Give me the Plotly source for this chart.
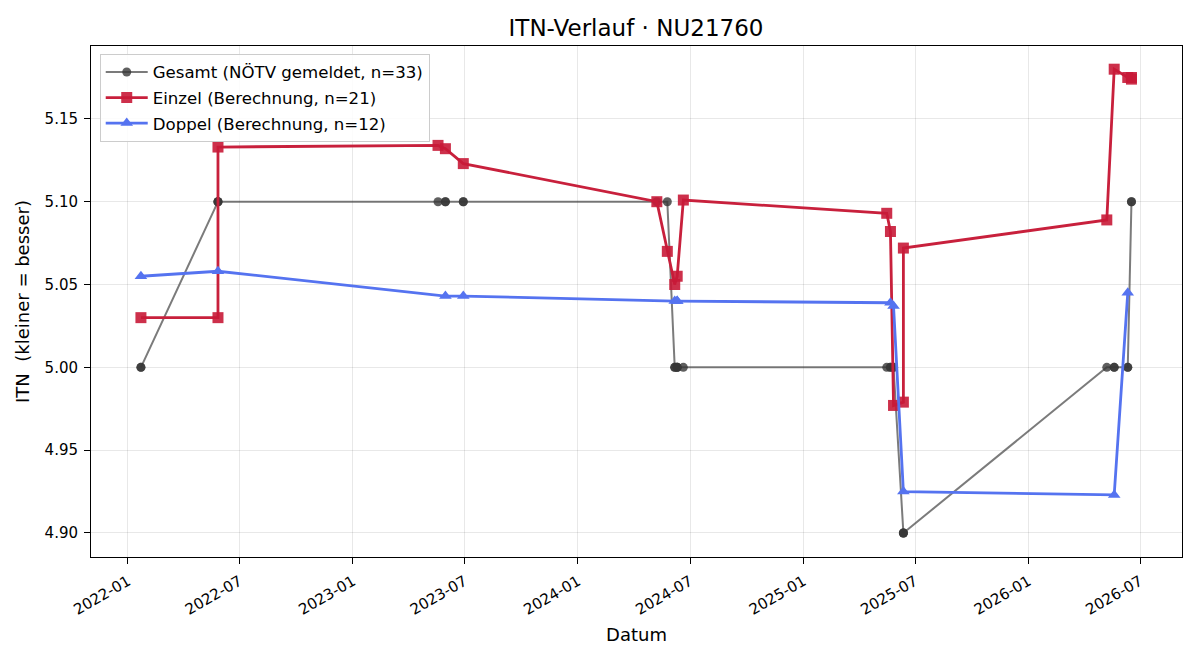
import plotly.graph_objects as go

# Gesamt (NÖTV gemeldet)
gesamt_dates = ["2022-01-22", "2022-01-22", "2022-05-27", "2022-05-27", "2022-05-27",
                "2023-05-19", "2023-05-31", "2023-05-31", "2023-06-29", "2023-06-29",
                "2024-05-08", "2024-05-25", "2024-06-06", "2024-06-06", "2024-06-10",
                "2024-06-10", "2024-06-10", "2024-06-20", "2025-05-16", "2025-05-22",
                "2025-05-22", "2025-05-27", "2025-05-27", "2025-06-12", "2025-06-12",
                "2025-06-12", "2026-05-08", "2026-05-20", "2026-05-20", "2026-06-11",
                "2026-06-11", "2026-06-17", "2026-06-17"]
gesamt_itn = [5.00, 5.00, 5.10, 5.10, 5.10,
              5.10, 5.10, 5.10, 5.10, 5.10,
              5.10, 5.10, 5.00, 5.00, 5.00,
              5.00, 5.00, 5.00, 5.00, 5.00,
              5.00, 5.00, 5.00, 4.90, 4.90,
              4.90, 5.00, 5.00, 5.00, 5.00,
              5.00, 5.10, 5.10]

# Einzel (Berechnung)
einzel_dates = ["2022-01-22", "2022-05-27", "2022-05-27", "2023-05-19", "2023-05-31",
                "2023-06-29", "2024-05-08", "2024-05-25", "2024-06-06", "2024-06-10",
                "2024-06-20", "2025-05-16", "2025-05-22", "2025-05-27", "2025-06-12",
                "2025-06-12", "2026-05-08", "2026-05-20", "2026-06-11", "2026-06-17",
                "2026-06-17"]
einzel_itn = [5.030, 5.030, 5.133, 5.134, 5.132,
              5.123, 5.100, 5.070, 5.050, 5.055,
              5.101, 5.093, 5.082, 4.977, 4.979,
              5.072, 5.089, 5.180, 5.175, 5.175,
              5.174]

# Doppel (Berechnung)
doppel_dates = ["2022-01-22", "2022-05-27", "2023-05-31", "2023-06-29", "2024-06-06",
                "2024-06-10", "2024-06-10", "2025-05-22", "2025-05-27", "2025-06-12",
                "2026-05-20", "2026-06-11"]
doppel_itn = [5.055, 5.058, 5.043, 5.043, 5.040,
              5.040, 5.040, 5.039, 5.037, 4.925,
              4.923, 5.045]

fig = go.Figure()
fig.add_trace(go.Scatter(
    x=gesamt_dates, y=gesamt_itn, mode="lines+markers",
    name="Gesamt (NÖTV gemeldet, n=33)", legendgroup="g",
    line=dict(color="rgba(60,60,60,0.68)", width=2),
    marker=dict(symbol="circle", size=9, color="rgba(55,55,55,0.8)")))
fig.add_trace(go.Scatter(
    x=einzel_dates, y=einzel_itn, mode="lines+markers",
    name="Einzel (Berechnung, n=21)", legendgroup="e",
    line=dict(color="#c8203c", width=2.8),
    marker=dict(symbol="square", size=11, color="rgba(200,25,55,0.9)")))
fig.add_trace(go.Scatter(
    x=doppel_dates, y=doppel_itn, mode="lines+markers",
    name="Doppel (Berechnung, n=12)", legendgroup="d",
    line=dict(color="#5573f0", width=2.8),
    marker=dict(symbol="triangle-up", size=11, color="#5573f0")))

axis_common = dict(showline=True, linecolor="black", linewidth=1, mirror=True,
                   showgrid=True, gridcolor="rgba(0,0,0,0.09)", gridwidth=1,
                   ticks="outside", ticklen=6, tickcolor="black",
                   ticklabelstandoff=3,
                   tickfont=dict(size=15, color="black"), zeroline=False)

fig.update_layout(
    width=1200, height=660,
    paper_bgcolor="white", plot_bgcolor="white",
    font=dict(family="DejaVu Sans", color="black"),
    margin=dict(l=91, r=18, t=46, b=103),
    title=dict(text="ITN-Verlauf · NU21760", x=0.53, xanchor="center",
               y=0.957, yanchor="middle", font=dict(size=23)),
    xaxis=dict(range=["2021-11-02", "2026-09-07"], type="date",
               tick0="2022-01-01", dtick="M6", tickformat="%Y-%m",
               tickangle=-30,
               title=dict(text="Datum", font=dict(size=18), standoff=10),
               **axis_common),
    yaxis=dict(range=[4.8855, 5.194], tickvals=[4.90, 4.95, 5.00, 5.05, 5.10, 5.15],
               tickformat=".2f",
               title=dict(text="ITN  (kleiner = besser)", font=dict(size=18), standoff=10),
               **axis_common),
    legend=dict(x=0.008, y=0.985, xanchor="left", yanchor="top",
                bgcolor="rgba(255,255,255,0.85)", bordercolor="#cccccc", borderwidth=1,
                font=dict(size=16.6), tracegroupgap=1, itemwidth=42),
    showlegend=True,
)

fig.write_html("out.html")
